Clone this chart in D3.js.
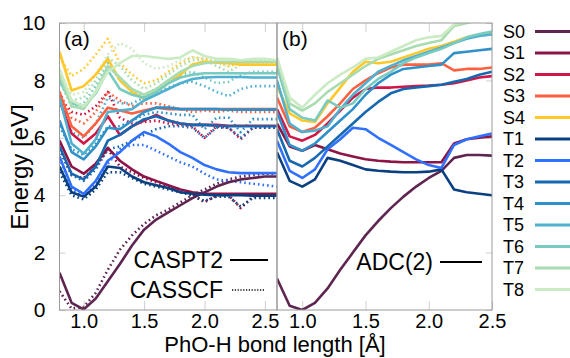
<!DOCTYPE html>
<html><head><meta charset="utf-8">
<script src="https://cdn.jsdelivr.net/npm/d3@7"></script>
<style>body{margin:0;background:#fff}svg{display:block}text{font-family:"Liberation Sans",Arial,sans-serif;fill:#000}</style>
</head><body><svg id="c" width="570" height="358"></svg>
<script>
const states = ["S0","S1","S2","S3","S4","T1","T2","T3","T4","T5","T6","T7","T8"];
const colors = ["#5e2551","#8c1446","#d01848","#ff6040","#ffc828","#0a4080","#3070ff","#1668b0","#3090c8","#50b0d0","#78cbc0","#a8dcb0","#cbebc5"];
const xTicks = [1.0,1.5,2.0,2.5];
const yTicks = [0,2,4,6,8,10];
const bondA = [0.8,0.9,1.0,1.1,1.2,1.3,1.4,1.5,1.6,1.7,1.8,1.9,2.0,2.1,2.2,2.3,2.4,2.5,2.6];
const bondB = [0.8,0.9,1.0,1.1,1.2,1.3,1.4,1.5,1.6,1.7,1.8,1.9,2.0,2.1,2.2,2.3,2.4,2.5];

// (a) CASPT2
const caspt2_S0 = [1.3,0.25,0.02,0.4,1.0,1.6,2.25,2.8,3.15,3.4,3.65,3.9,4.1,4.3,4.45,4.55,4.6,4.65,4.65];
const caspt2_S1 = [5.9,5.0,4.75,5.1,5.65,5.2,4.9,4.65,4.5,4.35,4.2,4.1,4.05,4.05,4.05,4.05,4.05,4.05,4.05];
const caspt2_S2 = [7.3,6.15,5.8,6.15,6.75,6.1,6.4,6.6,6.8,6.6,6.5,6.45,6.45,6.45,6.42,6.42,6.42,6.42,6.42];
const caspt2_S3 = [7.6,6.4,6.05,6.5,7.05,6.95,6.85,6.95,7.05,7.0,7.0,7.0,7.0,7.0,7.0,7.0,7.0,7.0,7.0];
const caspt2_S4 = [9.0,7.65,7.8,8.2,8.75,8.0,7.6,7.35,7.6,7.9,8.2,8.55,8.65,8.62,8.6,8.55,8.55,8.55,8.55];
const caspt2_T1 = [5.0,4.1,3.95,4.3,5.0,4.95,4.65,4.45,4.35,4.25,4.1,4.05,4.02,4.0,4.0,4.0,3.98,3.98,3.98];
const caspt2_T2 = [5.35,4.3,4.05,4.5,5.2,5.5,5.9,6.2,6.05,5.8,5.5,5.3,5.05,4.9,4.8,4.77,4.77,4.77,4.77];
const caspt2_T3 = [5.7,4.75,4.55,5.0,5.9,6.1,6.4,6.65,6.75,6.6,6.5,6.45,6.45,6.42,6.4,6.4,6.4,6.4,6.4];
const caspt2_T4 = [6.6,5.5,5.25,5.7,6.35,6.3,6.6,6.9,7.05,7.05,7.0,7.0,7.0,7.0,6.98,6.98,6.98,6.98,6.98];
const caspt2_T5 = [7.4,5.8,5.45,5.95,6.9,6.95,7.0,7.3,7.5,7.7,7.9,8.05,8.1,8.12,8.12,8.12,8.1,8.1,8.1];
const caspt2_T6 = [8.0,7.2,7.1,7.55,8.35,7.7,7.5,7.4,7.6,7.9,8.1,8.2,8.25,8.25,8.25,8.25,8.25,8.25,8.25];
const caspt2_T7 = [8.2,7.1,7.0,7.6,8.5,8.1,7.7,7.5,7.7,8.0,8.3,8.5,8.6,8.65,8.65,8.65,8.65,8.65,8.65];
const caspt2_T8 = [8.4,7.3,7.1,7.6,8.3,8.6,8.85,8.85,8.8,8.75,8.8,9.05,8.85,8.75,8.75,8.7,8.75,8.75,8.7];

// (a) CASSCF
const casscf_S0 = [0.65,0.05,0.1,0.6,1.4,2.1,2.6,3.0,3.3,3.5,3.75,4.0,4.2,4.4,4.55,4.65,4.7,4.75,4.75];
const casscf_S1 = [5.6,4.7,4.6,5.0,5.6,5.0,4.8,4.6,4.45,4.3,4.2,4.0,3.75,4.0,4.0,3.55,3.95,4.0,4.0];
const casscf_S2 = [7.4,6.9,6.8,7.1,7.6,6.7,6.5,6.55,6.6,6.5,6.45,6.4,6.0,6.4,6.35,5.95,6.35,6.35,6.35];
const casscf_S3 = [7.6,6.7,6.5,6.9,7.6,7.3,7.1,7.2,7.2,7.1,7.0,6.9,6.95,6.9,6.95,6.9,6.9,6.9,6.9];
const casscf_S4 = [8.8,8.15,8.4,8.9,9.45,8.6,8.2,7.9,8.0,8.3,8.6,8.8,8.75,8.65,8.5,8.6,8.65,8.65,8.65];
const casscf_T1 = [4.8,4.0,3.85,4.2,4.8,4.8,4.6,4.4,4.3,4.2,4.1,4.0,3.8,3.95,3.95,3.6,3.9,3.9,3.9];
const casscf_T2 = [5.3,4.2,4.0,4.4,5.1,5.6,5.75,5.75,5.55,5.35,5.15,5.0,4.75,4.55,4.5,4.45,4.4,4.35,4.3];
const casscf_T3 = [5.6,4.7,4.5,4.9,5.6,5.7,5.9,6.1,6.3,6.4,6.4,6.35,6.0,6.35,6.35,6.0,6.35,6.35,6.35];
const casscf_T4 = [6.4,5.6,5.4,5.8,6.4,6.4,6.6,6.8,6.9,6.85,6.8,6.8,6.3,6.7,6.7,6.2,6.65,6.65,6.65];
const casscf_T5 = [7.5,6.2,6.0,6.5,7.4,7.2,7.2,7.4,7.6,7.75,7.9,7.95,7.8,7.6,7.45,7.7,7.8,7.8,7.8];
const casscf_T6 = [8.0,7.1,7.2,7.8,8.6,8.0,7.6,7.5,7.7,8.0,8.2,8.3,8.1,7.9,7.95,8.2,8.3,8.3,8.3];
const casscf_T7 = [8.2,7.3,7.4,8.0,8.8,8.5,8.0,7.7,7.9,8.2,8.5,8.7,8.7,8.5,8.3,8.55,8.6,8.6,8.6];
const casscf_T8 = [8.3,7.5,7.6,8.2,8.9,9.3,9.1,8.6,8.4,8.5,8.7,8.8,8.75,8.6,8.5,8.7,8.7,8.7,8.7];

// (b) ADC(2)
const adc_S0 = [1.1,0.15,0.0,0.25,0.75,1.4,2.0,2.6,3.1,3.55,3.95,4.3,4.6,4.85,5.3,5.4,5.4,5.38];
const adc_S1 = [6.5,5.7,5.55,5.75,5.6,5.45,5.35,5.25,5.2,5.17,5.15,5.15,5.15,5.15,5.8,5.95,6.0,6.05];
const adc_S2 = [7.0,6.05,5.9,6.1,6.5,6.95,7.4,7.7,7.75,7.75,7.78,7.8,7.82,7.85,7.9,8.0,8.1,8.15];
const adc_S3 = [7.4,6.4,6.2,6.35,6.75,7.2,7.7,8.0,8.25,8.45,8.55,8.55,8.55,8.6,8.35,8.4,8.4,8.45];
const adc_S4 = [7.8,6.85,6.6,6.55,7.2,7.75,8.3,8.65,8.6,8.65,8.8,8.95,9.1,9.2,9.35,9.5,9.6,9.65];
const adc_T1 = [5.5,4.5,4.3,4.55,5.3,5.2,5.05,4.9,4.85,4.82,4.8,4.8,4.82,4.9,4.2,4.1,4.05,4.0];
const adc_T2 = [5.9,4.85,4.6,4.9,5.6,5.95,6.35,6.3,6.0,5.75,5.5,5.25,5.05,4.95,5.75,5.95,6.05,6.15];
const adc_T3 = [6.3,5.2,5.0,5.3,5.7,6.1,6.5,6.9,7.25,7.55,7.7,7.75,7.8,7.85,7.95,8.05,8.2,8.3];
const adc_T4 = [6.9,5.75,5.55,5.8,6.2,6.6,7.0,7.5,7.9,8.2,8.4,8.45,8.5,8.55,8.95,9.0,9.05,9.1];
const adc_T5 = [8.0,6.5,6.2,6.25,6.4,7.0,7.5,7.9,8.3,8.5,8.7,8.85,9.0,9.15,9.3,9.45,9.55,9.6];
const adc_T6 = [8.5,7.0,6.7,6.6,7.3,7.05,7.2,7.7,8.05,8.3,8.6,8.8,8.95,9.1,9.3,9.5,9.62,9.7];
const adc_T7 = [8.7,7.2,6.95,7.2,7.6,7.9,8.2,8.5,8.75,8.9,9.05,9.2,9.3,9.4,9.9,10.0,10.1,10.2];
const adc_T8 = [8.8,7.4,7.05,7.5,7.9,8.2,8.45,8.75,8.8,9.0,9.2,9.4,9.5,9.55,9.95,10.05,10.15,10.2];

const caspt2 = [caspt2_S0,caspt2_S1,caspt2_S2,caspt2_S3,caspt2_S4,caspt2_T1,caspt2_T2,caspt2_T3,caspt2_T4,caspt2_T5,caspt2_T6,caspt2_T7,caspt2_T8];
const casscf = [casscf_S0,casscf_S1,casscf_S2,casscf_S3,casscf_S4,casscf_T1,casscf_T2,casscf_T3,casscf_T4,casscf_T5,casscf_T6,casscf_T7,casscf_T8];
const adc = [adc_S0,adc_S1,adc_S2,adc_S3,adc_S4,adc_T1,adc_T2,adc_T3,adc_T4,adc_T5,adc_T6,adc_T7,adc_T8];

const svg = d3.select("#c");
const topY = 23, botY = 310;
const xA = d3.scaleLinear().domain([0.8,2.6]).range([59.5,277]);
const xB = d3.scaleLinear().domain([0.8,2.5]).range([277,492]);
const y = d3.scaleLinear().domain([0,10]).range([botY,topY]);
const frameCol = "#9a9a9a", tickCol = "#cfcfcf";

const defs = svg.append("defs");
defs.append("clipPath").attr("id","clipA").append("rect").attr("x",59.5).attr("y",topY).attr("width",277-59.5).attr("height",botY-topY);
defs.append("clipPath").attr("id","clipB").append("rect").attr("x",277).attr("y",topY).attr("width",492-277).attr("height",botY-topY);

function axes(x, left, right, labelY) {
  const gB = svg.append("g").attr("transform",`translate(0,${botY})`)
    .call(d3.axisBottom(x).tickValues(xTicks).tickFormat(d3.format(".1f")).tickSize(-9).tickPadding(4));
  const gT = svg.append("g").attr("transform",`translate(0,${topY})`)
    .call(d3.axisTop(x).tickValues(xTicks).tickFormat("").tickSize(-9));
  [gB,gT].forEach(g=>{g.select(".domain").remove();g.selectAll(".tick line").attr("stroke",tickCol);});
  gB.selectAll("text").attr("font-size",20).attr("font-family","Liberation Sans, Arial, sans-serif").attr("fill","#000");
  if (labelY) {
    const gL = svg.append("g").attr("transform",`translate(${left},0)`)
      .call(d3.axisLeft(y).tickValues(yTicks).tickSize(-6).tickPadding(14));
    gL.select(".domain").remove();
    gL.selectAll(".tick line").attr("stroke",tickCol);
    gL.selectAll("text").attr("font-size",21).attr("font-family","Liberation Sans, Arial, sans-serif").attr("fill","#000");
  } else {
    const gR = svg.append("g").attr("transform",`translate(${right},0)`)
      .call(d3.axisRight(y).tickValues(yTicks).tickFormat("").tickSize(-6));
    gR.select(".domain").remove();
    gR.selectAll(".tick line").attr("stroke",tickCol);
  }
}
axes(xA,59.5,277,true);
axes(xB,277,492,false);

function draw(x, bond, sets, clip, dashed) {
  const g = svg.append("g").attr("clip-path",`url(#${clip})`);
  const line = d3.line().x((d,i)=>x(bond[i])).y(d=>y(d));
  sets.forEach((vals,k)=>{
    g.append("path").attr("d",line(vals)).attr("fill","none")
      .attr("stroke",colors[k]).attr("stroke-width",2.6)
      .attr("stroke-linejoin","round")
      .attr("stroke-dasharray",dashed?"1.6,3":null);
  });
}
draw(xA,bondA,casscf,"clipA",true);
draw(xA,bondA,caspt2,"clipA",false);
draw(xB,bondB,adc,"clipB",false);

svg.append("rect").attr("x",59.5).attr("y",topY).attr("width",277-59.5).attr("height",botY-topY).attr("fill","none").attr("stroke",frameCol);
svg.append("rect").attr("x",277).attr("y",topY).attr("width",492-277).attr("height",botY-topY).attr("fill","none").attr("stroke",frameCol);

svg.append("text").attr("x",64).attr("y",46).attr("font-size",21).text("(a)");
svg.append("text").attr("x",282).attr("y",46).attr("font-size",21).text("(b)");

svg.append("text").attr("x",223).attr("y",268).attr("text-anchor","end").attr("font-size",23).text("CASPT2");
svg.append("line").attr("x1",230).attr("x2",268).attr("y1",260).attr("y2",260).attr("stroke","#000").attr("stroke-width",2);
svg.append("text").attr("x",223).attr("y",298).attr("text-anchor","end").attr("font-size",23).text("CASSCF");
svg.append("line").attr("x1",232).attr("x2",265).attr("y1",290).attr("y2",290).attr("stroke","#000").attr("stroke-width",1.5).attr("stroke-dasharray","1.2,1.6");
svg.append("text").attr("x",433).attr("y",270).attr("text-anchor","end").attr("font-size",23).text("ADC(2)");
svg.append("line").attr("x1",440).attr("x2",482).attr("y1",262).attr("y2",262).attr("stroke","#000").attr("stroke-width",2);

svg.append("text").attr("transform","translate(28,167) rotate(-90)").attr("text-anchor","middle").attr("font-size",24).text("Energy [eV]");
svg.append("text").attr("x",275).attr("y",352).attr("text-anchor","middle").attr("font-size",22).text("PhO-H bond length [Å]");

const leg = svg.append("g");
states.forEach((s,i)=>{
  const yy = 31.5 + i*21.5;
  leg.append("text").attr("x",503).attr("y",yy).attr("dy","0.36em").attr("font-size",18).text(s);
  leg.append("line").attr("x1",535).attr("x2",572).attr("y1",yy).attr("y2",yy).attr("stroke",colors[i]).attr("stroke-width",3);
});
</script></body></html>
